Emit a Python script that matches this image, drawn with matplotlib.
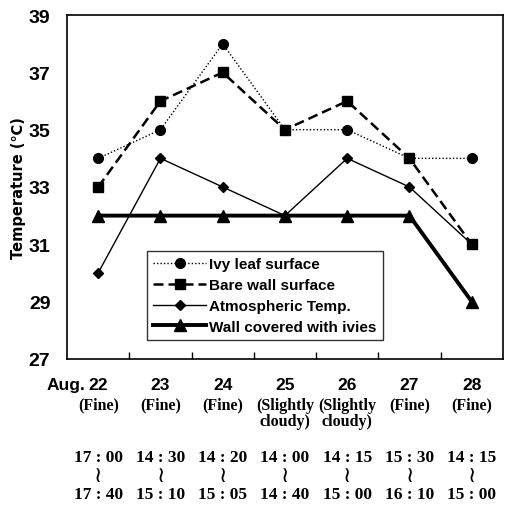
import matplotlib
matplotlib.use("Agg")
import matplotlib.pyplot as plt
import matplotlib.transforms as mtransforms

days = ["22", "23", "24", "25", "26", "27", "28"]
weather = ["(Fine)", "(Fine)", "(Fine)", "(Slightly\ncloudy)", "(Slightly\ncloudy)", "(Fine)", "(Fine)"]
start_times = ["17 : 00", "14 : 30", "14 : 20", "14 : 00", "14 : 15", "15 : 30", "14 : 15"]
end_times = ["17 : 40", "15 : 10", "15 : 05", "14 : 40", "15 : 00", "16 : 10", "15 : 00"]

ivy = [34, 35, 38, 35, 35, 34, 34]
bare = [33, 36, 37, 35, 36, 34, 31]
atm = [30, 34, 33, 32, 34, 33, 31]
covered = [32, 32, 32, 32, 32, 32, 29]

yticks = [27, 29, 31, 33, 35, 37, 39]

fig = plt.figure(figsize=(5.12, 5.06), dpi=100)
ax = fig.add_axes([0.131, 0.289, 0.851, 0.679])

x = list(range(len(days)))
ax.plot(x, ivy, linestyle=(0, (1, 1.5)), color="black", lw=1.0, marker="o", ms=7,
        label="Ivy leaf surface")
ax.plot(x, bare, linestyle=(0, (4, 2)), color="black", lw=1.8, marker="s", ms=7,
        label="Bare wall surface")
ax.plot(x, atm, linestyle="-", color="black", lw=1.0, marker="D", ms=5.5,
        label="Atmospheric Temp.")
ax.plot(x, covered, linestyle="-", color="black", lw=2.8, marker="^", ms=8,
        label="Wall covered with ivies")

ax.set_xlim(-0.5, len(days) - 0.5)
ax.set_ylim(27, 39)
ax.set_yticks(yticks)
ax.set_yticklabels([str(v) for v in yticks], fontsize=14, fontweight="bold",
                   family="Liberation Sans")
ax.tick_params(axis="y", length=0, pad=12)

ax.set_xticks(x)
ax.set_xticklabels(days, fontsize=12.5, fontweight="bold", family="Liberation Sans")
ax.set_xticks([i + 0.5 for i in x[:-1]], minor=True)
ax.tick_params(axis="x", which="major", length=0, pad=13)
ax.tick_params(axis="x", which="minor", direction="in", length=5, width=1)

for s in ax.spines.values():
    s.set_linewidth(1.2)

ax.set_ylabel("Temperature (℃)", fontsize=10.5, fontweight="bold", family="DejaVu Sans",
              labelpad=2)

trans = mtransforms.blended_transform_factory(ax.transData, ax.transAxes)
ax.annotate("Aug.", xy=(0, 0), xycoords=trans, xytext=(-9, -13), textcoords="offset points",
            ha="right", va="top", fontsize=12.5, fontweight="bold", family="Liberation Sans")

for i in x:
    ax.text(i, -0.11, weather[i], transform=trans, ha="center", va="top",
            fontsize=11.5, fontweight="bold", family="Liberation Serif", linespacing=1.05)
    ax.text(i, -0.262, start_times[i], transform=trans, ha="center", va="top",
            fontsize=12.5, fontweight="bold", family="Liberation Serif")
    ax.text(i, -0.308, "≀", transform=trans, ha="center", va="top",
            fontsize=16, family=["DejaVu Sans", "Noto Sans"])
    ax.text(i, -0.37, end_times[i], transform=trans, ha="center", va="top",
            fontsize=12.5, fontweight="bold", family="Liberation Serif")

leg = ax.legend(loc="lower left", bbox_to_anchor=(0.183, 0.055), frameon=True,
                fancybox=False, edgecolor="black", handlelength=3.5, handletextpad=0.2,
                borderpad=0.4, labelspacing=0.45, borderaxespad=0,
                prop={"family": "Liberation Sans", "weight": "bold", "size": 11})
leg.get_frame().set_linewidth(1.0)

fig.savefig("out.png", dpi=100)
